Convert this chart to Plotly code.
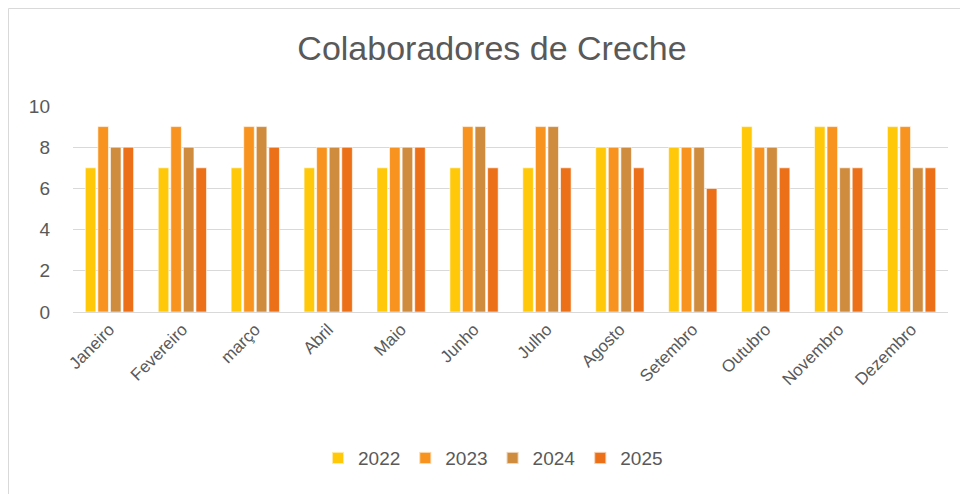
import plotly.graph_objects as go

months = ["Janeiro", "Fevereiro", "março", "Abril", "Maio", "Junho", "Julho",
          "Agosto", "Setembro", "Outubro", "Novembro", "Dezembro"]
v2022 = [7, 7, 7, 7, 7, 7, 7, 8, 8, 9, 9, 9]
v2023 = [9, 9, 9, 8, 8, 9, 9, 8, 8, 8, 9, 9]
v2024 = [8, 8, 9, 8, 8, 9, 9, 8, 8, 8, 7, 7]
v2025 = [8, 7, 8, 8, 8, 7, 7, 7, 6, 7, 7, 7]
series = [("2022", v2022, "#FFC90A"), ("2023", v2023, "#F7931E"),
          ("2024", v2024, "#CF8B3E"), ("2025", v2025, "#EB7018")]
yticks = [0, 2, 4, 6, 8, 10]

fig = go.Figure()
for name, vals, col in series:
    fig.add_trace(go.Bar(x=months, y=vals, name=name, marker_color=col,
                         marker_line=dict(color="rgba(255,255,255,0.6)", width=1)))

fig.update_layout(
    width=968, height=494,
    barmode="group", bargap=0.31, bargroupgap=0.16,
    paper_bgcolor="white", plot_bgcolor="white",
    margin=dict(l=65, r=28, t=98, b=190),
    title=dict(text="Colaboradores de Creche", x=0.5, xanchor="center", y=0.918, yanchor="middle",
               font=dict(family="Liberation Sans, Roboto, sans-serif", size=34, color="#595959")),
    font=dict(family="Liberation Sans, Arial, sans-serif", color="#595959", size=18),
    legend=dict(orientation="h", x=0.48, xanchor="center", y=-0.709, yanchor="middle",
                font=dict(size=19, color="#595959"), itemsizing="constant", traceorder="normal"),
    xaxis=dict(tickangle=-45, showgrid=False, showline=True, linecolor="#D9D9D9", linewidth=1,
               ticks="", tickfont=dict(size=17, color="#595959"), automargin=False),
    yaxis=dict(range=[0, 10], tickvals=yticks, showgrid=True, gridcolor="#D9D9D9", gridwidth=1,
               zeroline=False, ticks="", tickfont=dict(size=19, color="#595959"),
               ticklabelstandoff=22, automargin=False),
    shapes=[dict(type="rect", xref="paper", yref="paper", x0=-0.0737, x1=1.2, y0=-2.0, y1=1.4733,
                 line=dict(color="#D9D9D9", width=1), fillcolor="rgba(0,0,0,0)", layer="below")],
)
fig.write_html("out.html")
